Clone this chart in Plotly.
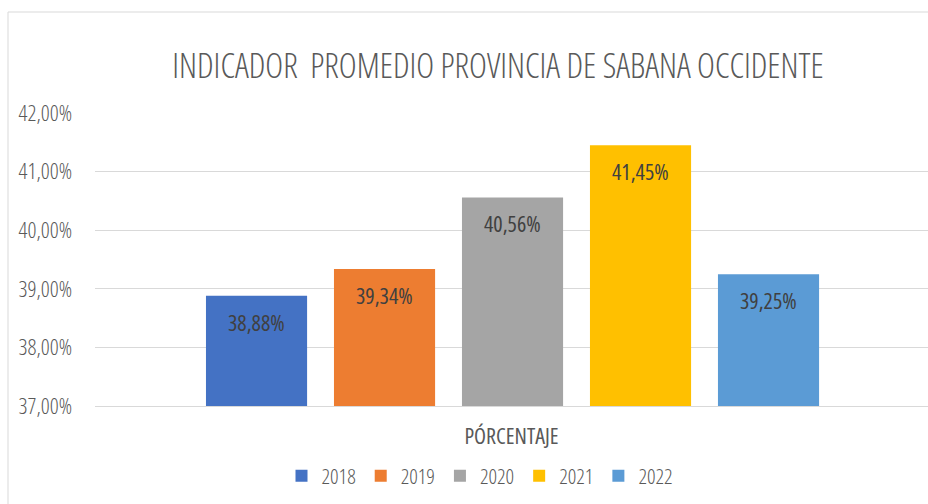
import plotly.graph_objects as go

years = ["2018", "2019", "2020", "2021", "2022"]
values = [0.3888, 0.3934, 0.4056, 0.4145, 0.3925]
colors = ["#4472C4", "#ED7D31", "#A5A5A5", "#FFC000", "#5B9BD5"]
category_label = "PÓRCENTAJE"
title_text = "INDICADOR  PROMEDIO PROVINCIA DE SABANA OCCIDENTE"
y_ticks = [0.37, 0.38, 0.39, 0.40, 0.41, 0.42]

FONT = "Open Sans, Roboto, sans-serif"


def cs(t, w=400):
    return f"<span style='font-stretch:75%;font-weight:{w}'>{t}</span>"


def pct(v):
    return f"{v * 100:.2f}%".replace(".", ",")


fig = go.Figure()
for i, (yr, v, c) in enumerate(zip(years, values, colors)):
    fig.add_trace(go.Bar(
        x=[i], y=[v], name=cs(yr, 300), marker=dict(color=c, line=dict(width=0)),
        hoverinfo="skip",
    ))
    fig.add_annotation(
        x=i, y=v, text=cs(pct(v), 500), showarrow=False,
        yanchor="top", yshift=-9,
        font=dict(family=FONT, size=22, color="#404040"),
    )

fig.update_layout(
    width=928, height=504,
    margin=dict(l=95, r=0, t=113, b=98),
    paper_bgcolor="white", plot_bgcolor="white",
    barmode="overlay", bargap=0.21,
    font=dict(family=FONT, color="#595959", size=20),
    title=dict(text=cs(title_text, 300), x=498 / 928, xanchor="center", xref="container",
               y=1 - 66 / 504, yanchor="middle", yref="container",
               font=dict(family=FONT, size=34, color="#595959")),
    showlegend=True,
    legend=dict(orientation="h", x=(480 - 95) / 833, xanchor="center",
                y=-(476 - 406) / 293, yanchor="middle",
                font=dict(family=FONT, size=21, color="#595959"),
                traceorder="normal", itemwidth=30),
)
fig.update_xaxes(
    type="linear", range=[-1.262, 5.246], showticklabels=False, ticks="",
    showgrid=False, zeroline=False,
    showline=True, linecolor="#d9d9d9", linewidth=1,
    title=dict(text=cs(category_label, 450), standoff=22,
               font=dict(family=FONT, size=22, color="#595959")),
    fixedrange=True,
)
fig.update_yaxes(
    range=[0.37, 0.42], tickvals=y_ticks, ticktext=[cs(pct(t), 300) for t in y_ticks],
    showgrid=True, gridcolor="#d9d9d9", gridwidth=1, zeroline=False,
    ticks="", ticklabelstandoff=22,
    tickfont=dict(family=FONT, size=22, color="#595959"),
    fixedrange=True,
)
fig.add_shape(type="rect", xref="paper", yref="paper",
              x0=(8 - 95) / 833, x1=1.02, y0=-0.5, y1=(406 - 12) / 293,
              line=dict(color="#d9d9d9", width=1), layer="below")

fig.write_html("out.html", config={"displayModeBar": False},
               post_script="document.body.style.margin='0';document.body.style.overflow='hidden';")
